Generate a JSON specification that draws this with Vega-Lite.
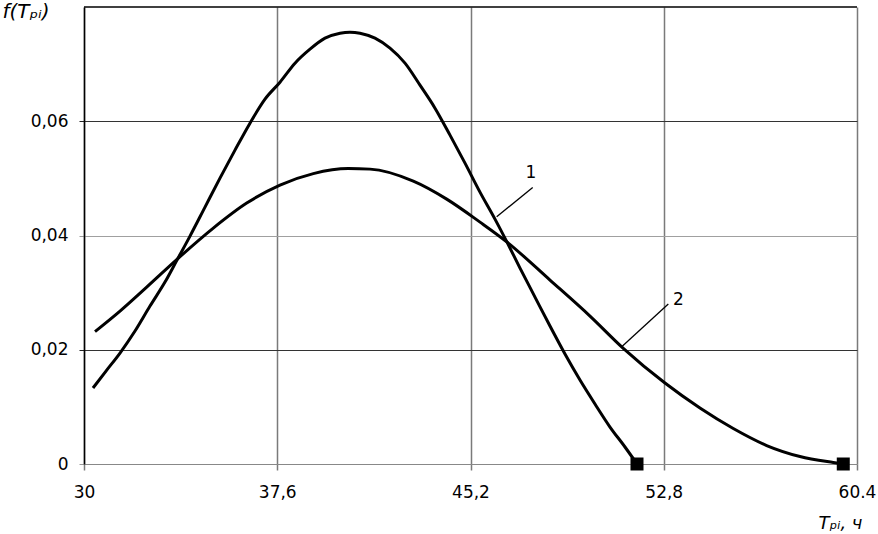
{
  "$schema": "https://vega.github.io/schema/vega-lite/v6.json",
  "width": 773,
  "height": 457,
  "autosize": {"type": "none"},
  "padding": {"left": 84, "top": 7, "right": 21, "bottom": 70},
  "background": "white",
  "config": {"view": {"stroke": null}, "font": "DejaVu Sans"},
  "datasets": {
    "curves": [
      {"series": "1", "T": 30.354, "f": 0.0133},
      {"series": "1", "T": 30.865, "f": 0.016273},
      {"series": "1", "T": 31.416, "f": 0.019423},
      {"series": "1", "T": 32.006, "f": 0.023272},
      {"series": "1", "T": 32.596, "f": 0.027647},
      {"series": "1", "T": 33.185, "f": 0.031846},
      {"series": "1", "T": 33.657, "f": 0.035696},
      {"series": "1", "T": 34.169, "f": 0.039895},
      {"series": "1", "T": 34.759, "f": 0.04497},
      {"series": "1", "T": 35.348, "f": 0.050044},
      {"series": "1", "T": 35.938, "f": 0.054944},
      {"series": "1", "T": 36.528, "f": 0.059668},
      {"series": "1", "T": 37.118, "f": 0.063868},
      {"series": "1", "T": 37.708, "f": 0.066842},
      {"series": "1", "T": 38.298, "f": 0.070167},
      {"series": "1", "T": 38.888, "f": 0.072617},
      {"series": "1", "T": 39.478, "f": 0.074541},
      {"series": "1", "T": 40.068, "f": 0.075416},
      {"series": "1", "T": 40.461, "f": 0.075591},
      {"series": "1", "T": 40.854, "f": 0.075416},
      {"series": "1", "T": 41.444, "f": 0.074541},
      {"series": "1", "T": 42.034, "f": 0.072792},
      {"series": "1", "T": 42.624, "f": 0.070167},
      {"series": "1", "T": 43.214, "f": 0.066317},
      {"series": "1", "T": 43.804, "f": 0.062293},
      {"series": "1", "T": 44.394, "f": 0.057568},
      {"series": "1", "T": 44.984, "f": 0.052669},
      {"series": "1", "T": 45.573, "f": 0.047595},
      {"series": "1", "T": 46.163, "f": 0.04287},
      {"series": "1", "T": 46.635, "f": 0.038846},
      {"series": "1", "T": 47.147, "f": 0.034296},
      {"series": "1", "T": 47.736, "f": 0.029222},
      {"series": "1", "T": 48.326, "f": 0.024147},
      {"series": "1", "T": 48.916, "f": 0.019248},
      {"series": "1", "T": 49.506, "f": 0.014698},
      {"series": "1", "T": 50.096, "f": 0.010499},
      {"series": "1", "T": 50.686, "f": 0.006474},
      {"series": "1", "T": 51.276, "f": 0.002975},
      {"series": "1", "T": 51.748, "f": 0},
      {"series": "2", "T": 30.433, "f": 0.023185},
      {"series": "2", "T": 31.416, "f": 0.026772},
      {"series": "2", "T": 32.466, "f": 0.030971},
      {"series": "2", "T": 33.646, "f": 0.035783},
      {"series": "2", "T": 35.085, "f": 0.041295},
      {"series": "2", "T": 36.399, "f": 0.04567},
      {"series": "2", "T": 37.708, "f": 0.048819},
      {"series": "2", "T": 39.018, "f": 0.050832},
      {"series": "2", "T": 40.394, "f": 0.051707},
      {"series": "2", "T": 41.248, "f": 0.051619},
      {"series": "2", "T": 42.951, "f": 0.049519},
      {"series": "2", "T": 44.264, "f": 0.04637},
      {"series": "2", "T": 45.574, "f": 0.042345},
      {"series": "2", "T": 46.624, "f": 0.038898},
      {"series": "2", "T": 48.326, "f": 0.032196},
      {"series": "2", "T": 49.899, "f": 0.025897},
      {"series": "2", "T": 51.209, "f": 0.020245},
      {"series": "2", "T": 52.848, "f": 0.014173},
      {"series": "2", "T": 54.224, "f": 0.009799},
      {"series": "2", "T": 55.534, "f": 0.006212},
      {"series": "2", "T": 56.847, "f": 0.003237},
      {"series": "2", "T": 58.157, "f": 0.001312},
      {"series": "2", "T": 59.467, "f": 0.000262},
      {"series": "2", "T": 59.86, "f": 0}
    ],
    "ends": [
      {"series": "1", "T": 51.748, "f": 0},
      {"series": "2", "T": 59.86, "f": 0}
    ],
    "leaders": [
      {"x": 46.23, "y": 0.04327, "x2": 47.646, "y2": 0.04842},
      {"x": 51.146, "y": 0.02053, "x2": 52.979, "y2": 0.028}
    ],
    "labels": [
      {"T": 47.58, "f": 0.05097, "label": "1"},
      {"T": 53.372, "f": 0.0287, "label": "2"}
    ]
  },
  "layer": [
    {
      "data": {"name": "curves"},
      "mark": {"type": "line", "color": "black", "strokeWidth": 3, "interpolate": "monotone", "clip": false},
      "encoding": {
        "x": {
          "field": "T", "type": "quantitative",
          "scale": {"domain": [30, 60.4], "nice": false, "zero": false},
          "axis": {
            "values": [30, 37.6, 45.2, 52.8, 60.4],
            "labelExpr": "datum.value > 60 ? '60.4' : replace(toString(datum.value), '.', ',')",
            "labelFont": "DejaVu Sans", "labelFontSize": 17, "labelColor": "black",
            "labelPadding": 14, "labelFlush": false,
            "tickSize": 6, "tickColor": "#7a7a7a", "tickWidth": 1.5,
            "domainColor": "#888888", "domainWidth": 1,
            "grid": true, "gridColor": "#7a7a7a", "gridWidth": 1.5,
            "title": "Tₚᵢ, ч", "titleFont": "DejaVu Sans", "titleFontStyle": "italic",
            "titleFontWeight": "normal", "titleFontSize": 18, "titleColor": "black",
            "titleX": 778, "titleY": 64, "titleAlign": "right", "titleBaseline": "alphabetic"
          }
        },
        "y": {
          "field": "f", "type": "quantitative",
          "scale": {"domain": [0, 0.08], "nice": false},
          "axis": {
            "values": [0, 0.02, 0.04, 0.06],
            "labelExpr": "datum.value == 0 ? '0' : replace(format(datum.value, '.2f'), '.', ',')",
            "labelFont": "DejaVu Sans", "labelFontSize": 17, "labelColor": "black",
            "labelPadding": 11,
            "tickSize": 5,
            "tickColor": {"condition": {"test": "datum.value == 0.04 || datum.value == 0", "value": "#999999"}, "value": "#222222"},
            "domainColor": "black", "domainWidth": 1.5,
            "grid": true,
            "gridColor": {"condition": {"test": "datum.value == 0.04 || datum.value == 0", "value": "#a0a0a0"}, "value": "#333333"},
            "gridWidth": 1,
            "title": "f(Tₚᵢ)", "titleFont": "DejaVu Sans", "titleFontStyle": "italic",
            "titleFontWeight": "normal", "titleFontSize": 20, "titleColor": "black",
            "titleAngle": 0, "titleX": -82, "titleY": -6, "titleAlign": "left", "titleBaseline": "top"
          }
        },
        "detail": {"field": "series"}
      }
    },
    {
      "data": {"values": [{}]},
      "mark": {"type": "rule", "color": "black", "strokeWidth": 1.5},
      "encoding": {"y": {"datum": 0.08}}
    },
    {
      "data": {"name": "leaders"},
      "mark": {"type": "rule", "color": "black", "strokeWidth": 1.3},
      "encoding": {
        "x": {"field": "x", "type": "quantitative"},
        "y": {"field": "y", "type": "quantitative"},
        "x2": {"field": "x2"},
        "y2": {"field": "y2"}
      }
    },
    {
      "data": {"name": "labels"},
      "mark": {"type": "text", "color": "black", "fontSize": 17, "font": "DejaVu Sans", "align": "center", "baseline": "middle"},
      "encoding": {
        "x": {"field": "T", "type": "quantitative"},
        "y": {"field": "f", "type": "quantitative"},
        "text": {"field": "label"}
      }
    },
    {
      "data": {"name": "ends"},
      "mark": {"type": "point", "shape": "square", "filled": true, "color": "black", "size": 169, "opacity": 1, "clip": false},
      "encoding": {
        "x": {"field": "T", "type": "quantitative"},
        "y": {"field": "f", "type": "quantitative"}
      }
    }
  ]
}
